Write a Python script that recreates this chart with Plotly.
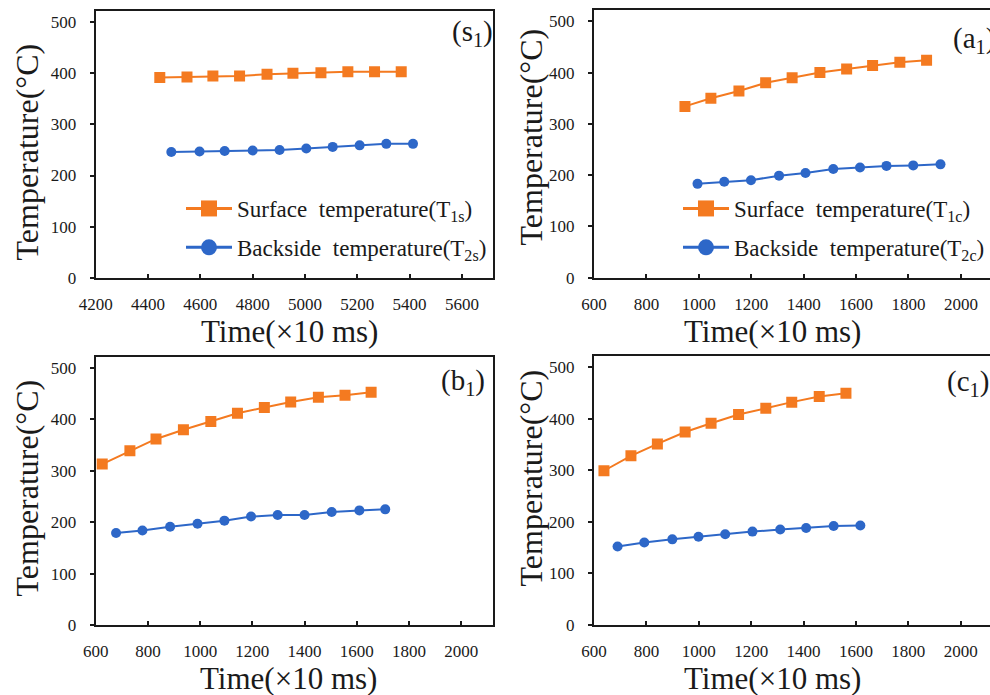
import plotly.graph_objects as go

# ---------------- data ----------------
s1_surf_x = [4445, 4549, 4648, 4750, 4855, 4954, 5061, 5164, 5266, 5368]
s1_surf_y = [392, 393, 395, 395, 398, 400, 401, 403, 403, 403]
s1_back_x = [4489, 4597, 4693, 4800, 4903, 5005, 5106, 5209, 5311, 5413]
s1_back_y = [246, 247, 248, 249, 250, 253, 256, 259, 262, 262]

a1_surf_x = [947, 1046, 1153, 1255, 1356, 1462, 1564, 1663, 1767, 1869]
a1_surf_y = [334, 350, 364, 380, 390, 400, 407, 414, 420, 424]
a1_back_x = [995, 1097, 1199, 1306, 1407, 1513, 1615, 1716, 1818, 1922]
a1_back_y = [183, 187, 190, 199, 204, 212, 215, 218, 219, 221]

b1_surf_x = [625, 731, 831, 936, 1041, 1143, 1246, 1347, 1453, 1555, 1655]
b1_surf_y = [313, 339, 362, 380, 396, 412, 423, 434, 443, 447, 453]
b1_back_x = [678, 779, 885, 990, 1093, 1195, 1297, 1400, 1504, 1610, 1709]
b1_back_y = [179, 184, 191, 197, 203, 211, 214, 214, 220, 223, 225]

c1_surf_x = [638, 741, 842, 948, 1047, 1152, 1256, 1355, 1460, 1562]
c1_surf_y = [299, 328, 351, 374, 391, 408, 420, 432, 443, 449]
c1_back_x = [690, 792, 899, 999, 1101, 1205, 1311, 1410, 1515, 1617]
c1_back_y = [152, 160, 166, 171, 176, 181, 185, 188, 192, 193]

x_ranges = {"s": [4200, 5720], "a": [600, 2111], "b": [600, 2123], "c": [600, 2112]}
x_ticks = {"s": list(range(4200, 5601, 200)), "a": list(range(600, 2001, 200)),
           "b": list(range(600, 2001, 200)), "c": list(range(600, 2001, 200))}
y_range = [0, 522]
y_ticks = [0, 100, 200, 300, 400, 500]

panel_labels = {"s": "(s<sub>1</sub>)", "a": "(a<sub>1</sub>)", "b": "(b<sub>1</sub>)", "c": "(c<sub>1</sub>)"}
legend_names = {
    "s": ["Surface\u00a0 temperature(T<sub>1s</sub>)", "Backside\u00a0 temperature(T<sub>2s</sub>)"],
    "a": ["Surface\u00a0 temperature(T<sub>1c</sub>)", "Backside\u00a0 temperature(T<sub>2c</sub>)"],
}
x_title = "Time(×10 ms)"
y_title = "Temperature(°C)"

ORANGE = "#F47A20"
BLUE = "#2D67C8"
FONT = "Liberation Serif"
INK = "#1a1a1a"
W, H = 990, 695

# ---------------- layout geometry (pixels) ----------------
# key: axis suffix, plot x0, x1, top, bottom, legend id,
#      x-title centre (x, y), y-title centre (x, y), panel label (right x, top y)
panels = {
    "s": ("", 95.7, 493.3, 11.0, 277.7, "legend", (289, 331), (26.5, 152), (495, 13)),
    "a": ("2", 594.0, 990.0, 10.0, 277.7, "legend2", (772, 331), (530.5, 137), (997, 20)),
    "b": ("3", 95.7, 493.3, 356.7, 625.0, None, (288.5, 678), (26.5, 488), (487, 362)),
    "c": ("4", 594.0, 990.0, 355.7, 625.0, None, (772, 678), (530.5, 478), (991, 363)),
}
series = {
    "s": (s1_surf_x, s1_surf_y, s1_back_x, s1_back_y),
    "a": (a1_surf_x, a1_surf_y, a1_back_x, a1_back_y),
    "b": (b1_surf_x, b1_surf_y, b1_back_x, b1_back_y),
    "c": (c1_surf_x, c1_surf_y, c1_back_x, c1_back_y),
}

fig = go.Figure()
layout = dict(
    width=W, height=H, margin=dict(l=0, r=0, t=0, b=0, autoexpand=False),
    paper_bgcolor="white", plot_bgcolor="white",
    font=dict(family=FONT, color=INK, size=17),
    showlegend=True,
)
annotations = []

for key, (suf, x0, x1, yt, yb, leg, xt, ytl, pl) in panels.items():
    xa, ya = "x" + suf, "y" + suf
    sx, sy, bx, by = series[key]
    fig.add_trace(go.Scatter(x=sx, y=sy, xaxis=xa, yaxis=ya, mode="lines+markers",
                             line=dict(color=ORANGE, width=2),
                             marker=dict(symbol="square", size=11, color=ORANGE),
                             showlegend=False))
    fig.add_trace(go.Scatter(x=bx, y=by, xaxis=xa, yaxis=ya, mode="lines+markers",
                             line=dict(color=BLUE, width=2),
                             marker=dict(symbol="circle", size=10, color=BLUE),
                             showlegend=False))
    if leg:
        names = legend_names[key]
        fig.add_trace(go.Scatter(x=[None], y=[None], xaxis=xa, yaxis=ya, mode="lines+markers",
                                 name=names[0], legend=leg, legendgroup=key + "1",
                                 line=dict(color=ORANGE, width=3),
                                 marker=dict(symbol="square", size=16, color=ORANGE)))
        fig.add_trace(go.Scatter(x=[None], y=[None], xaxis=xa, yaxis=ya, mode="lines+markers",
                                 name=names[1], legend=leg, legendgroup=key + "2",
                                 line=dict(color=BLUE, width=3),
                                 marker=dict(symbol="circle", size=16, color=BLUE)))
    right_col = key in ("a", "c")
    layout["xaxis" + suf] = dict(
        domain=[x0 / W, x1 / W], anchor=ya, range=x_ranges[key], automargin=False,
        tickmode="array", tickvals=x_ticks[key],
        ticks="inside", ticklen=4, tickwidth=1.5, tickcolor=INK,
        showline=True, linewidth=2, linecolor=INK, mirror=True,
        showgrid=False, zeroline=False,
        tickfont=dict(family=FONT, size=17, color=INK), ticklabelstandoff=10,
    )
    layout["yaxis" + suf] = dict(
        domain=[1 - yb / H, 1 - yt / H], anchor=xa, range=y_range, automargin=False,
        tickmode="array", tickvals=y_ticks,
        ticks="outside", ticklen=4, tickwidth=1.5, tickcolor=INK,
        showline=True, linewidth=2, linecolor=INK, mirror=(not right_col),
        showgrid=False, zeroline=False,
        tickfont=dict(family=FONT, size=17, color=INK), ticklabelstandoff=10,
    )
    # axis titles
    annotations.append(dict(
        text=x_title, xref="paper", yref="paper", x=xt[0] / W, y=1 - xt[1] / H,
        xanchor="center", yanchor="middle", showarrow=False,
        font=dict(family=FONT, size=31, color=INK)))
    annotations.append(dict(
        text=y_title, xref="paper", yref="paper", x=ytl[0] / W, y=1 - ytl[1] / H,
        xanchor="center", yanchor="middle", showarrow=False, textangle=-90,
        font=dict(family=FONT, size=32, color=INK)))
    # panel label
    annotations.append(dict(
        text=panel_labels[key], xref="paper", yref="paper",
        x=pl[0] / W, y=1 - pl[1] / H,
        xanchor="right", yanchor="top", showarrow=False,
        font=dict(family=FONT, size=29, color=INK)))

legend_common = dict(
    xanchor="left", yanchor="top", bgcolor="rgba(0,0,0,0)",
    font=dict(family=FONT, size=23, color=INK),
    itemwidth=46, tracegroupgap=6, itemclick=False, itemdoubleclick=False,
)
layout["legend"] = dict(legend_common, x=181 / W, y=1 - 187 / H)
layout["legend2"] = dict(legend_common, x=678 / W, y=1 - 187 / H)
layout["annotations"] = annotations
fig.update_layout(**layout)

fig.write_html("out.html")
